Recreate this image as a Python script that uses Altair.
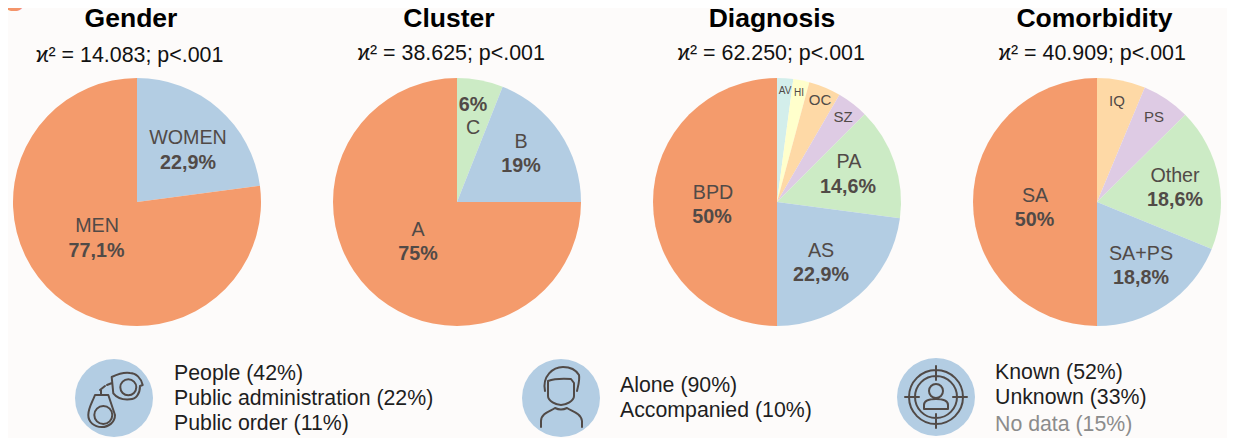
import altair as alt
import pandas as pd

FONT = "Liberation Sans"
BG = "#FDFBFA"
INK = "#514A47"
OX, OY = 8, 8

ORANGE, BLUE, GREEN, PURPLE, PEACH, YELLOW, TEAL = (
    "#F49B6C", "#B3CDE3", "#CCEBC5", "#DECBE4", "#FED9A6", "#FFFFCC", "#D3EEEB")

gender_cats = ["WOMEN", "MEN"]
gender_vals = [22.9, 77.1]
gender_cols = [BLUE, ORANGE]

cluster_cats = ["C", "B", "A"]
cluster_vals = [6, 19, 75]
cluster_cols = [GREEN, BLUE, ORANGE]

diag_cats = ["AV", "HI", "OC", "SZ", "PA", "AS", "BPD"]
diag_vals = [2.1, 2.1, 4.2, 4.1, 14.6, 22.9, 50]
diag_cols = [TEAL, YELLOW, PEACH, PURPLE, GREEN, BLUE, ORANGE]

como_cats = ["IQ", "PS", "Other", "SA+PS", "SA"]
como_vals = [6.3, 6.3, 18.6, 18.8, 50]
como_cols = [PEACH, PURPLE, GREEN, BLUE, ORANGE]

titles = ["Gender", "Cluster", "Diagnosis", "Comorbidity"]
stats = ["ϰ² = 14.083; p<.001", "ϰ² = 38.625; p<.001",
         "ϰ² = 62.250; p<.001", "ϰ² = 40.909; p<.001"]


def txt(s, x, y, size=19.7, bold=False, color=INK, align="center"):
    return alt.Chart(pd.DataFrame({"t": [s]})).mark_text(
        font=FONT, fontSize=size, fontWeight="bold" if bold else "normal",
        color=color, align=align, baseline="alphabetic",
    ).encode(x=alt.value(x - OX), y=alt.value(y - OY), text="t:N")


def pie(cats, vals, cols, cx, cy=202, r=124):
    df = pd.DataFrame({"cat": cats, "val": vals, "col": cols, "i": range(len(cats))})
    return alt.Chart(df).mark_arc(outerRadius=r).encode(
        x=alt.value(cx - OX), y=alt.value(cy - OY),
        theta=alt.Theta("val:Q", stack=True, scale=alt.Scale(domain=[0, 100])),
        color=alt.Color("col:N", scale=None, legend=None),
        order=alt.Order("i:O", sort="ascending"),
    )


def disc(cx, cy, r=39):
    return alt.Chart(pd.DataFrame({"a": [1]})).mark_point(
        filled=True, shape="circle", size=(2 * r) ** 2, color=BLUE, opacity=1,
    ).encode(x=alt.value(cx - OX), y=alt.value(cy - OY))


def icon(path, cx, cy, sw=2.0):
    # size 4 makes one path unit equal to one pixel
    return alt.Chart(pd.DataFrame({"a": [1]})).mark_point(
        filled=False, shape=path, size=4, stroke=INK, strokeWidth=sw, opacity=1,
        strokeCap="round", strokeJoin="round",
    ).encode(x=alt.value(cx - OX), y=alt.value(cy - OY))


def ring(x, y, r):
    return f"M{x-r} {y}A{r} {r} 0 1 0 {x+r} {y}A{r} {r} 0 1 0 {x-r} {y}Z"


CUFFS = (
    ring(14.3, -10.7, 8)
    + "M-2.3 -21C4 -24 10 -26 16 -25C22 -25 27 -20 28.7 -13L26 -12"
      "C26 -4 22 1 16 1.3C9 2 3 0 -0.7 -4.7Z"
    + "M-2 -15L-7 -13M-9 -12L-14 -8M-13 -8L-13 -3"
    + ring(-10.7, 17, 9)
    + "M-19 -3L-5.7 -3L1 17C1 24 -5 29 -12.3 29C-20 29 -25.7 24 -25.7 17"
      "C-25.7 10 -22 5 -19 -3Z"
)
PERSON = (
    "M-16 -7C-19 -22 -8 -31 2 -31C10 -31 15 -28 18 -23C19 -18 17 -12 16 -7"
    "M-13 -17Q-5 -20 10 -19L13 -15L13 -2C13 3 5 7 0 7C-5 7 -13 3 -13 -2Z"
    "M-20 29L-20 23C-20 15 -10 13 -6 10Q0 13 6 10C10 13 20 15 21 23L21 29"
)
TARGET = (
    ring(0, 0, 27) + ring(0, 0, 21)
    + "M0 -31L0 -17M0 17L0 31M-31 0L-17 0M17 0L31 0"
    + ring(0, -6, 7)
    + "M-12 12L-12 8C-12 3 -6 2 0 2C6 2 12 3 12 8L12 12Z"
)

layers = [
    pie(gender_cats, gender_vals, gender_cols, 137),
    pie(cluster_cats, cluster_vals, cluster_cols, 457),
    pie(diag_cats, diag_vals, diag_cols, 777),
    pie(como_cats, como_vals, como_cols, 1097),
    disc(114, 398), icon(CUFFS, 114, 398),
    disc(561, 398), icon(PERSON, 561, 398),
    disc(936, 397), icon(TARGET, 936, 397),
    txt("S", 4, 11, 30, True, "#F4956A", "left"),
]

for t, x in zip(titles, [131, 449, 772, 1094.5]):
    layers.append(txt(t, x, 27, 26.5, True, "#000000"))
for s, x, y in zip(stats, [129.5, 451, 771, 1092], [62, 60, 60, 60]):
    layers.append(txt(s, x, y, 21.4, False, "#111111"))

pie_labels = [
    ("WOMEN", 188, 144, 19.7, False), ("22,9%", 188, 169, 19.7, True),
    ("MEN", 97, 232, 19.7, False), ("77,1%", 96.5, 257, 19.7, True),
    ("6%", 473, 111, 19.7, True), ("C", 473, 134, 19.7, False),
    ("B", 521, 148, 19.7, False), ("19%", 521, 172, 19.7, True),
    ("A", 418, 236, 19.7, False), ("75%", 418, 260, 19.7, True),
    ("AV", 785, 94, 10, False), ("HI", 799, 96, 10, False),
    ("OC", 820, 105, 15, False), ("SZ", 843, 122, 15, False),
    ("PA", 849, 168, 19.7, False), ("14,6%", 848, 193, 19.7, True),
    ("BPD", 713, 199, 19.7, False), ("50%", 712, 223, 19.7, True),
    ("AS", 821, 257, 19.7, False), ("22,9%", 821, 281, 19.7, True),
    ("IQ", 1117, 106, 15, False), ("PS", 1154, 122, 15, False),
    ("Other", 1175, 182, 19.7, False), ("18,6%", 1175, 206, 19.7, True),
    ("SA", 1035, 202, 19.7, False), ("50%", 1034.5, 226, 19.7, True),
    ("SA+PS", 1141, 260, 19.7, False), ("18,8%", 1141, 284, 19.7, True),
]
for s, x, y, size, bold in pie_labels:
    layers.append(txt(s, x, y, size, bold))

notes = [
    ("People (42%)", 174, 380, "#1E1E1E"),
    ("Public administration (22%)", 174, 405, "#1E1E1E"),
    ("Public order (11%)", 174, 430, "#1E1E1E"),
    ("Alone (90%)", 620, 392, "#1E1E1E"),
    ("Accompanied (10%)", 620, 417, "#1E1E1E"),
    ("Known (52%)", 995, 379, "#1E1E1E"),
    ("Unknown (33%)", 995, 404, "#1E1E1E"),
    ("No data (15%)", 995, 431, "#8C8C8C"),
]
for s, x, y, c in notes:
    layers.append(txt(s, x, y, 21.3, False, c, "left"))

chart = alt.layer(*layers).properties(
    width=1219, height=430, padding=0, background=BG,
    autosize=alt.AutoSizeParams(type="none"),
).configure_view(stroke=None)

chart.save("out.html", embed_options={"renderer": "svg", "actions": False})
